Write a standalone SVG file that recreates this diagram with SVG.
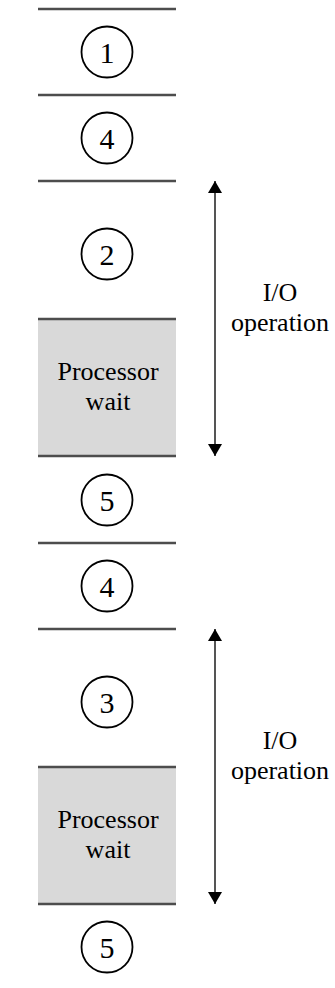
<svg xmlns="http://www.w3.org/2000/svg" width="335" height="988" viewBox="0 0 335 988">
  <style>
    .sep { stroke: #4d4d4d; stroke-width: 2.5; }
    .wait rect { fill: #d9d9d9; }
    .step circle { fill: none; stroke: #000; stroke-width: 1.8; }
    .num { font-family: "Liberation Serif", "Times New Roman", serif; font-size: 30px; fill: #000; text-anchor: middle; }
    .lbl { font-family: "Liberation Serif", "Times New Roman", serif; font-size: 26px; fill: #000; text-anchor: middle; }
    .io line { stroke: #555; stroke-width: 2; }
  </style>
  <defs>
    <marker id="head" viewBox="0 0 12 14" refX="12" refY="7" markerWidth="12" markerHeight="14" markerUnits="userSpaceOnUse" orient="auto">
      <path d="M0,0 L12,7 L0,14 Z" fill="#000"/>
    </marker>
  </defs>

  <!-- processor-wait shaded bands -->
  <g id="wait-1" class="wait">
    <rect x="38" y="319" width="138" height="137"/>
    <text class="lbl" x="108" y="380">Processor</text>
    <text class="lbl" x="108" y="410">wait</text>
  </g>
  <g id="wait-2" class="wait">
    <rect x="38" y="767" width="138" height="137"/>
    <text class="lbl" x="108" y="828">Processor</text>
    <text class="lbl" x="108" y="858">wait</text>
  </g>

  <!-- separators between timeline segments -->
  <g id="separators">
    <line class="sep" x1="38" y1="9" x2="176" y2="9"/>
    <line class="sep" x1="38" y1="95" x2="176" y2="95"/>
    <line class="sep" x1="38" y1="181" x2="176" y2="181"/>
    <line class="sep" x1="38" y1="319" x2="176" y2="319"/>
    <line class="sep" x1="38" y1="456" x2="176" y2="456"/>
    <line class="sep" x1="38" y1="543" x2="176" y2="543"/>
    <line class="sep" x1="38" y1="629" x2="176" y2="629"/>
    <line class="sep" x1="38" y1="767" x2="176" y2="767"/>
    <line class="sep" x1="38" y1="904" x2="176" y2="904"/>
  </g>

  <!-- numbered program steps -->
  <g id="step-1" class="step"><circle cx="107" cy="52" r="25.5"/><text class="num" x="107" y="63">1</text></g>
  <g id="step-4a" class="step"><circle cx="107" cy="138" r="25.5"/><text class="num" x="107" y="149">4</text></g>
  <g id="step-2" class="step"><circle cx="107" cy="254" r="25.5"/><text class="num" x="107" y="265">2</text></g>
  <g id="step-5a" class="step"><circle cx="107" cy="500" r="25.5"/><text class="num" x="107" y="511">5</text></g>
  <g id="step-4b" class="step"><circle cx="107" cy="586" r="25.5"/><text class="num" x="107" y="597">4</text></g>
  <g id="step-3" class="step"><circle cx="107" cy="702" r="25.5"/><text class="num" x="107" y="713">3</text></g>
  <g id="step-5b" class="step"><circle cx="107" cy="947" r="25.5"/><text class="num" x="107" y="958">5</text></g>

  <!-- I/O operation spans -->
  <g id="connectors" class="io">
    <line x1="215" y1="250" x2="215" y2="181" marker-end="url(#head)"/>
    <line x1="215" y1="250" x2="215" y2="456" marker-end="url(#head)"/>
    <line x1="215" y1="698" x2="215" y2="629" marker-end="url(#head)"/>
    <line x1="215" y1="698" x2="215" y2="904" marker-end="url(#head)"/>
  </g>
  <g id="io-label-1">
    <text class="lbl" x="280" y="301">I/O</text>
    <text class="lbl" x="280" y="331">operation</text>
  </g>
  <g id="io-label-2">
    <text class="lbl" x="280" y="749">I/O</text>
    <text class="lbl" x="280" y="779">operation</text>
  </g>
</svg>
